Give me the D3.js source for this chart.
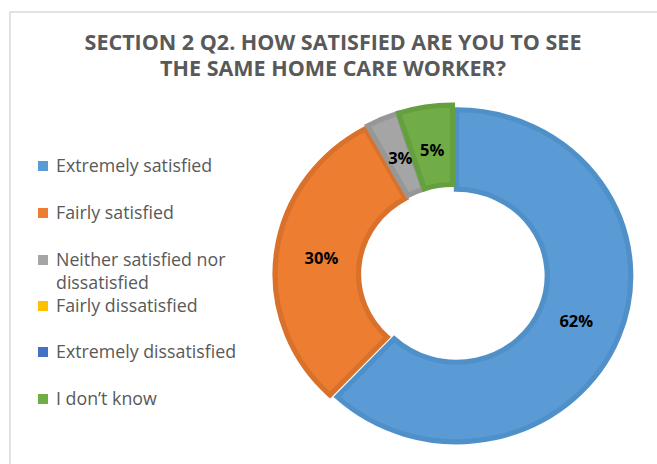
<!DOCTYPE html>
<html>
<head>
<meta charset="utf-8">
<script src="https://cdn.jsdelivr.net/npm/d3@7"></script>
<style>
  html, body { margin: 0; padding: 0; background: #fff; }
  svg { display: block; }
</style>
</head>
<body>
<svg id="chart" width="657" height="464"></svg>
<script>
// Survey responses (percent of respondents)
const categories = [
  "Extremely satisfied",
  "Fairly satisfied",
  "Neither satisfied nor dissatisfied",
  "Fairly dissatisfied",
  "Extremely dissatisfied",
  "I don\u2019t know"
];
const values = [62, 30, 3, 0, 0, 5];
const valueLabels = ["62%", "30%", "3%", "", "", "5%"];
const fills = ["#5B9BD5", "#ED7D31", "#A5A5A5", "#FFC000", "#4472C4", "#70AD47"];
const borders = ["#5090C9", "#D9712B", "#979797", "#E8AF00", "#3E68B3", "#65A040"];
const titleLines = ["SECTION 2 Q2. HOW SATISFIED ARE YOU TO SEE", "THE SAME HOME CARE WORKER?"];
const legendLines = [
  ["Extremely satisfied"],
  ["Fairly satisfied"],
  ["Neither satisfied nor", "dissatisfied"],
  ["Fairly dissatisfied"],
  ["Extremely dissatisfied"],
  ["I don\u2019t know"]
];

const svg = d3.select("#chart");

// chart frame
svg.append("path")
  .attr("d", "M10,464 L10,12 L657,12")
  .attr("fill", "none")
  .attr("stroke", "#D9D9D9")
  .attr("stroke-width", 1.5);

// title
const title = svg.append("text")
  .attr("text-anchor", "middle")
  .attr("font-family", "'Open Sans', sans-serif")
  .attr("font-weight", "bold")
  .attr("font-size", 21.5)
  .attr("fill", "#595959");
titleLines.forEach((t, i) => {
  title.append("tspan").attr("x", 333).attr("y", 50 + i * 26).text(t);
});

// donut
const cx = 453, cy = 274.5, sx = 1.05;
const outerR = 166, innerR = 86.5, explode = 3.5;

const pie = d3.pie().sort(null).value(d => d.value);
const arcs = pie(values.map((v, i) => ({ value: v, i })));
const arc = d3.arc().innerRadius(innerR).outerRadius(outerR);

const ring = svg.append("g")
  .attr("transform", `translate(${cx},${cy}) scale(${sx},1)`);

arcs.filter(a => a.value > 0).forEach(a => {
  const mid = (a.startAngle + a.endAngle) / 2;
  const dx = Math.sin(mid) * explode, dy = -Math.cos(mid) * explode;
  ring.append("path")
    .attr("d", arc(a))
    .attr("transform", `translate(${dx},${dy})`)
    .attr("fill", fills[a.data.i])
    .attr("stroke", borders[a.data.i])
    .attr("stroke-width", 5)
    .attr("stroke-linejoin", "miter");
});

// data labels at the ring centroid
arcs.filter(a => a.value > 0).forEach(a => {
  const [px, py] = arc.centroid(a);
  svg.append("text")
    .attr("x", cx + px * sx)
    .attr("y", cy + py)
    .attr("dy", "0.35em")
    .attr("text-anchor", "middle")
    .attr("font-family", "'Open Sans', sans-serif")
    .attr("font-weight", "bold")
    .attr("font-size", 16.5)
    .attr("fill", "#000")
    .text(valueLabels[a.data.i]);
});

// legend
const rowY = [166, 213, 260, 306, 352, 399];
const legend = svg.append("g");
legendLines.forEach((lines, i) => {
  const g = legend.append("g");
  g.append("rect")
    .attr("x", 38).attr("y", rowY[i] - 5)
    .attr("width", 10).attr("height", 10)
    .attr("fill", fills[i]);
  const t = g.append("text")
    .attr("font-family", "'Open Sans', sans-serif")
    .attr("font-size", 17.8)
    .attr("fill", "#595959");
  lines.forEach((l, j) => {
    t.append("tspan").attr("x", 56).attr("y", rowY[i] + j * 23).attr("dy", "0.35em").text(l);
  });
});
</script>
</body>
</html>
